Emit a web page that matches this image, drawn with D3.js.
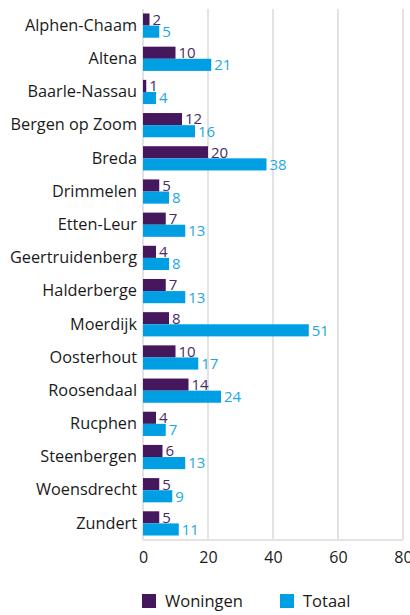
<!DOCTYPE html>
<html>
<head>
<meta charset="utf-8">
<script src="https://cdn.jsdelivr.net/npm/d3@7"></script>
<style>
  body { margin: 0; background: #fff; }
  svg text { font-family: "Open Sans", "DejaVu Sans", sans-serif; }
</style>
</head>
<body>
<div id="chart"></div>
<script>
// gemeenten and values
const gemeenten = ["Alphen-Chaam", "Altena", "Baarle-Nassau", "Bergen op Zoom", "Breda",
  "Drimmelen", "Etten-Leur", "Geertruidenberg", "Halderberge", "Moerdijk", "Oosterhout",
  "Roosendaal", "Rucphen", "Steenbergen", "Woensdrecht", "Zundert"];
const woningen = [2, 10, 1, 12, 20, 5, 7, 4, 7, 8, 10, 14, 4, 6, 5, 5];
const totaal = [5, 21, 4, 16, 38, 8, 13, 8, 13, 51, 17, 24, 7, 13, 9, 11];
const xTicks = [0, 20, 40, 60, 80];

const series = [
  { name: "Woningen", values: woningen, color: "#45175d", label: "#4b2a63" },
  { name: "Totaal", values: totaal, color: "#009fe3", label: "#1ea6e4" }
];

const width = 410, height = 615;
const margin = { top: 9, right: 7, bottom: 75, left: 143 };

const svg = d3.select("#chart").append("svg")
  .attr("width", width)
  .attr("height", height);

const x = d3.scaleLinear().domain([0, 80]).range([margin.left, width - margin.right]);
const y = d3.scaleBand().domain(gemeenten).range([margin.top, height - margin.bottom]).paddingInner(0.27).paddingOuter(0.135);
const ySub = d3.scaleBand().domain(series.map(s => s.name)).range([0, y.bandwidth()]);

// vertical gridlines
svg.append("g")
  .selectAll("line")
  .data(xTicks)
  .join("line")
  .attr("x1", d => x(d)).attr("x2", d => x(d))
  .attr("y1", margin.top).attr("y2", height - margin.bottom)
  .attr("stroke", "#e3e3e3")
  .attr("stroke-width", 2);

// bottom axis line
svg.append("line")
  .attr("x1", x(0)).attr("x2", x(80))
  .attr("y1", height - margin.bottom).attr("y2", height - margin.bottom)
  .attr("stroke", "#e3e3e3")
  .attr("stroke-width", 2);

// x axis labels
const xAxis = d3.axisBottom(x).tickValues(xTicks).tickSize(0).tickPadding(12);
const gx = svg.append("g")
  .attr("transform", `translate(0,${height - margin.bottom})`)
  .call(xAxis);
gx.select(".domain").remove();
gx.selectAll("text").attr("font-size", 16).attr("fill", "#1a1a1a")
  .style("font-family", '"Open Sans", "DejaVu Sans", sans-serif');

// category labels
const yAxis = d3.axisLeft(y).tickSize(0).tickPadding(6);
const gy = svg.append("g")
  .attr("transform", `translate(${margin.left},0)`)
  .call(yAxis);
gy.select(".domain").remove();
gy.selectAll("text").attr("font-size", 16.3).attr("fill", "#1a1a1a")
  .style("font-family", '"Open Sans", "DejaVu Sans", sans-serif');

// bars
series.forEach(s => {
  const g = svg.append("g");
  g.selectAll("rect")
    .data(gemeenten)
    .join("rect")
    .attr("x", x(0))
    .attr("y", d => y(d) + ySub(s.name))
    .attr("width", (d, i) => x(s.values[i]) - x(0))
    .attr("height", ySub.bandwidth())
    .attr("fill", s.color);

  g.selectAll("text")
    .data(gemeenten)
    .join("text")
    .attr("x", (d, i) => x(s.values[i]) + 3)
    .attr("y", d => y(d) + ySub(s.name) + ySub.bandwidth() / 2)
    .attr("dy", "0.36em")
    .attr("font-size", 15)
    .attr("fill", s.label)
    .text((d, i) => s.values[i]);
});

// legend
const legendX = [142, 280];
const legend = svg.append("g");
series.forEach((s, i) => {
  legend.append("rect")
    .attr("x", legendX[i]).attr("y", 594)
    .attr("width", 14).attr("height", 14)
    .attr("fill", s.color);
  legend.append("text")
    .attr("x", legendX[i] + 23).attr("y", 601)
    .attr("dy", "0.36em")
    .attr("font-size", 16.5)
    .attr("fill", "#1a1a1a")
    .text(s.name);
});
</script>
</body>
</html>
